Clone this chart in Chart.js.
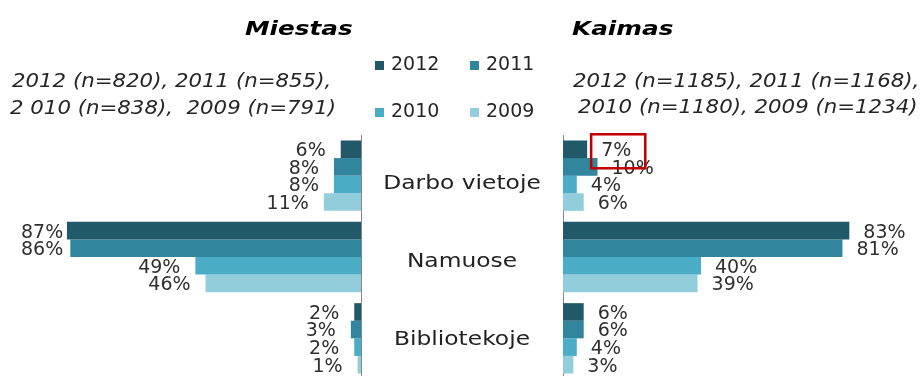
<!DOCTYPE html>
<html lang="lt">
<head>
<meta charset="utf-8">
<title>Miestas / Kaimas</title>
<script src="https://cdn.jsdelivr.net/npm/chart.js"></script>
<style>
  html, body { margin: 0; padding: 0; background: #fff; overflow: hidden; }
  #wrap { position: relative; width: 921px; height: 376px; overflow: hidden;
          font-family: "DejaVu Sans", Verdana, sans-serif; color: #262626; }
  #wrap canvas { position: absolute; left: 0; top: 0; }
  .txt { position: absolute; white-space: pre; font-size: 19px; line-height: 19px; transform-origin: 0 0; }
  .ttl { font-weight: bold; font-style: italic; color: #000; transform: scaleX(1.3); }
  .sub { font-style: italic; transform: scaleX(1.12); }
  #legend { position: absolute; left: 375px; top: 54px; }
  .leg { position: absolute; font-size: 19px; line-height: 19px; white-space: pre; }
  .leg i { position: absolute; left: 0; top: 7px; width: 9px; height: 9px; }
  .leg span { position: absolute; left: 16px; top: 0; }
</style>
</head>
<body>
<div id="wrap">
  <canvas id="miestasChart" width="921" height="392"></canvas>
  <canvas id="kaimasChart" width="921" height="392"></canvas>

  <div class="txt ttl" style="left:245px; top:19px;">Miestas</div>
  <div class="txt ttl" style="left:572px; top:19px;">Kaimas</div>

  <div class="txt sub" style="left:12px; top:71px;">2012 (n=820), 2011 (n=855),</div>
  <div class="txt sub" style="left:10px; top:98px;">2 010 (n=838),  2009 (n=791)</div>
  <div class="txt sub" style="left:573px; top:71px;">2012 (n=1185), 2011 (n=1168),</div>
  <div class="txt sub" style="left:578px; top:97px;">2010 (n=1180), 2009 (n=1234)</div>

  <div id="legend"></div>
</div>

<script>
// Where people use the internet, % of respondents, city vs. village
const categories = ['Darbo vietoje', 'Namuose', 'Bibliotekoje'];
const years = ['2012', '2011', '2010', '2009'];
const yearColors = ['#215968', '#31859c', '#4bacc6', '#92cddc'];

const miestas2012 = [6, 87, 2];
const miestas2011 = [8, 86, 3];
const miestas2010 = [8, 49, 2];
const miestas2009 = [11, 46, 1];

const kaimas2012 = [7, 83, 6];
const kaimas2011 = [10, 81, 6];
const kaimas2010 = [4, 40, 4];
const kaimas2009 = [6, 39, 3];

// value boxed in red on the Kaimas side (2012, Darbo vietoje)
const highlighted = { year: '2012', category: 'Darbo vietoje' };

const labelFont = '19px "DejaVu Sans", Verdana, sans-serif';

// legend, two columns by two rows
const legendBox = document.getElementById('legend');
years.forEach(function(yr, i) {
    const item = document.createElement('div');
    item.className = 'leg';
    item.style.left = (i % 2) * 95 + 'px';
    item.style.top = Math.floor(i / 2) * 46.5 + 'px';
    item.innerHTML = '<i style="background:' + yearColors[i] + '"></i><span>' + yr + '</span>';
    legendBox.appendChild(item);
});

function makeDatasets(series) {
    return series.map(function(values, i) {
        return {
            label: years[i],
            data: values,
            backgroundColor: yearColors[i],
            borderWidth: 0,
            categoryPercentage: 0.865,
            barPercentage: 1.0
        };
    });
}

// percentage labels at the end of each bar
const valueLabels = {
    id: 'valueLabels',
    afterDatasetsDraw(chart, args, opts) {
        const ctx = chart.ctx;
        const area = chart.chartArea;
        ctx.save();
        ctx.font = labelFont;
        ctx.fillStyle = '#303030';
        ctx.textBaseline = 'middle';
        let box = null;
        chart.data.datasets.forEach(function(ds, i) {
            chart.getDatasetMeta(i).data.forEach(function(bar, j) {
                const txt = ds.data[j] + '%';
                const w = ctx.measureText(txt).width;
                const y = bar.y + 2;
                let x;
                if (opts.side === 'left') {
                    ctx.textAlign = 'right';
                    x = Math.max(bar.x - 15, area.left - 2 + w);
                } else {
                    ctx.textAlign = 'left';
                    x = Math.min(bar.x + 14, area.right + 4 - w);
                }
                ctx.fillText(txt, x, y);
                if (opts.highlight && ds.label === opts.highlight.year &&
                    chart.data.labels[j] === opts.highlight.category) {
                    box = { x: x, y: y, w: w };
                }
            });
        });
        if (box) {
            ctx.strokeStyle = '#c00000';
            ctx.lineWidth = 2.5;
            ctx.strokeRect(box.x - 10, box.y - 17, box.w + 24, 34);
        }
        ctx.restore();
    }
};

// category names in the gap between the two halves,
// set on a slightly tighter pitch than the bar groups
const categoryLabels = {
    id: 'categoryLabels',
    afterDraw(chart, args, opts) {
        const ctx = chart.ctx;
        const yScale = chart.scales.y;
        const mid = (yScale.top + yScale.bottom) / 2;
        ctx.save();
        ctx.font = labelFont;
        ctx.fillStyle = '#222222';
        ctx.textAlign = 'center';
        ctx.textBaseline = 'middle';
        chart.data.labels.forEach(function(lab, i) {
            const cy = mid + (yScale.getPixelForValue(i) - mid) * 0.955 + 5;
            ctx.save();
            ctx.translate(opts.x, cy);
            ctx.scale(1.23, 1);
            ctx.fillText(lab, 0, 0);
            ctx.restore();
        });
        ctx.restore();
    }
};

function baseOptions(side, padding) {
    return {
        indexAxis: 'y',
        responsive: false,
        animation: false,
        events: [],
        layout: { padding: padding },
        scales: {
            x: { display: false, min: 0, max: 100, reverse: side === 'left' },
            y: {
                position: side === 'left' ? 'right' : 'left',
                ticks: { display: false },
                grid: { display: false },
                border: { display: true, color: '#868686', width: 1 },
                afterFit: function(scale) { scale.width = 0; }
            }
        },
        plugins: {
            legend: { display: false },
            tooltip: { enabled: false },
            valueLabels: { side: side }
        }
    };
}

const miestasOptions = baseOptions('left', { left: 23, right: 560, top: 135, bottom: 13 });
miestasOptions.plugins.categoryLabels = { x: 462 };

const kaimasOptions = baseOptions('right', { left: 563, right: 13, top: 135, bottom: 13 });
kaimasOptions.plugins.valueLabels.highlight = highlighted;

new Chart(document.getElementById('miestasChart'), {
    type: 'bar',
    data: {
        labels: categories,
        datasets: makeDatasets([miestas2012, miestas2011, miestas2010, miestas2009])
    },
    options: miestasOptions,
    plugins: [valueLabels, categoryLabels]
});

new Chart(document.getElementById('kaimasChart'), {
    type: 'bar',
    data: {
        labels: categories,
        datasets: makeDatasets([kaimas2012, kaimas2011, kaimas2010, kaimas2009])
    },
    options: kaimasOptions,
    plugins: [valueLabels]
});
</script>
</body>
</html>
